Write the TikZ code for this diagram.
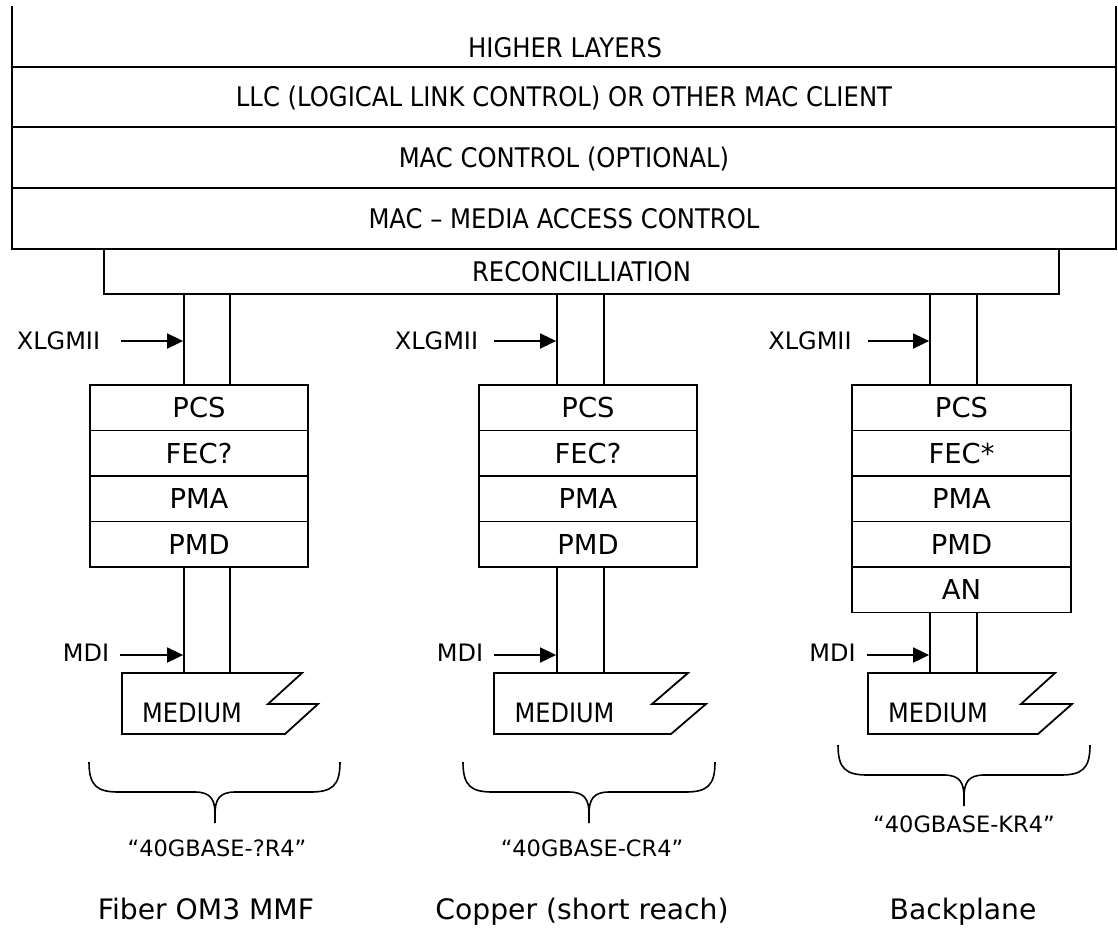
\documentclass[tikz,border=0pt]{standalone}
\usepackage{fontspec}
\setmainfont{DejaVu Sans}
\newfontfamily\narrowfont{DejaVu Sans}[FakeStretch=0.9]
\usetikzlibrary{arrows.meta}
\newcommand\mybrace[6]{% L R C top hy tip
  \draw[line width=1.6pt] (#1,#4) .. controls (#1,{#5-6}) and ({#1+8},#5) .. ({#1+30},#5) -- ({#3-20},#5)
    .. controls ({#3-4},#5) and (#3,{#5+8}) .. (#3,{#5+22}) -- (#3,#6);
  \draw[line width=1.6pt] (#3,{#5+22}) .. controls (#3,{#5+8}) and ({#3+4},#5) .. ({#3+20},#5)
    -- ({#2-30},#5) .. controls ({#2-8},#5) and (#2,{#5-6}) .. (#2,#4);}
\begin{document}
\begin{tikzpicture}[x=1pt,y=-1pt,line width=1.8pt,
  box/.style={draw, rectangle, inner sep=0pt, line width=1.8pt},
  top/.style={font=\narrowfont\fontsize{27}{32}\selectfont, text height=19.7pt, text depth=0pt, inner sep=0pt},
  big/.style={font=\fontsize{24}{28}\selectfont, text height=17.5pt, text depth=0pt, inner sep=0pt},
  med/.style={font=\narrowfont\fontsize{26.7}{30}\selectfont, text height=19.4pt, text depth=0pt, inner sep=0pt},
  lay/.style={font=\fontsize{27.4}{32}\selectfont, text height=20pt, text depth=0pt, inner sep=0pt},
  lbl/.style={font=\fontsize{22.5}{26}\selectfont, text height=16.4pt, text depth=0pt, inner sep=0pt},
  captwo/.style={font=\fontsize{28.2}{32}\selectfont, text height=20.5pt, text depth=0pt, inner sep=0pt},
  arr/.style={-{Triangle[length=16pt,width=15pt]}, line width=1.8pt},
  medium/.style={draw, line width=1.8pt, line join=miter}
]
\useasboundingbox (0,0) rectangle (1118,927);

% ---------- upper layers ----------
\node[top] (hl) at (565,48) {HIGHER LAYERS};
\draw (12,6) -- (12,67);
\draw (1116,6) -- (1116,67);
\node[box, top, minimum width=1104pt, minimum height=60pt] (llc) at (564,97) {LLC (LOGICAL LINK CONTROL) OR OTHER MAC CLIENT};
\node[box, top, minimum width=1104pt, minimum height=61pt] (macc) at (564,157.5) {MAC CONTROL (OPTIONAL)};
\node[box, top, minimum width=1104pt, minimum height=61pt] (mac) at (564,218.5) {MAC – MEDIA ACCESS CONTROL};
\node[box, top, minimum width=955pt, minimum height=45pt] (rec) at (581.5,271.5) {RECONCILLIATION};

% ---------- column 1 ----------
\node[box, minimum width=46pt, minimum height=91pt] (s1u) at (207,339.5) {};
\node[box, lay, minimum width=218pt, minimum height=45.5pt] (pcs1) at (199,407.75) {PCS};
\node[box, lay, minimum width=218pt, minimum height=45.5pt] (fec1) at (199,453.25) {FEC?};
\node[box, lay, minimum width=218pt, minimum height=45.5pt] (pma1) at (199,498.75) {PMA};
\node[box, lay, minimum width=218pt, minimum height=45.5pt] (pmd1) at (199,544.25) {PMD};
\node[box, minimum width=46pt, minimum height=106pt] (s1l) at (207,620) {};
\node[big] (xg1) at (58.5,341) {XLGMII};
\coordinate (xa1) at (121,341);
\draw[arr] (xa1) -- (xa1 -| s1u.west);
\node[big] (md1) at (86,653) {MDI};
\coordinate (ma1) at (120,655);
\draw[arr] (ma1) -- (ma1 -| s1l.west);
\draw[medium] (122,673) -- (302,673) -- (268,704) -- (318,704) -- (285,734) -- (122,734) -- cycle;
\node[med] (med1) at (192,713) {MEDIUM};

% ---------- column 2 ----------
\node[box, minimum width=47pt, minimum height=91pt] (s2u) at (580.5,339.5) {};
\node[box, lay, minimum width=218pt, minimum height=45.5pt] (pcs2) at (588,407.75) {PCS};
\node[box, lay, minimum width=218pt, minimum height=45.5pt] (fec2) at (588,453.25) {FEC?};
\node[box, lay, minimum width=218pt, minimum height=45.5pt] (pma2) at (588,498.75) {PMA};
\node[box, lay, minimum width=218pt, minimum height=45.5pt] (pmd2) at (588,544.25) {PMD};
\node[box, minimum width=47pt, minimum height=106pt] (s2l) at (580.5,620) {};
\node[big] (xg2) at (436.5,341) {XLGMII};
\coordinate (xa2) at (494,341);
\draw[arr] (xa2) -- (xa2 -| s2u.west);
\node[big] (md2) at (460,653) {MDI};
\coordinate (ma2) at (494,655);
\draw[arr] (ma2) -- (ma2 -| s2l.west);
\draw[medium] (494,673) -- (688,673) -- (652,704) -- (706,704) -- (671,734) -- (494,734) -- cycle;
\node[med] (med2) at (564.5,713) {MEDIUM};

% ---------- column 3 ----------
\node[box, minimum width=47pt, minimum height=91pt] (s3u) at (953.5,339.5) {};
\node[box, lay, minimum width=219pt, minimum height=45.5pt] (pcs3) at (961.5,407.75) {PCS};
\node[box, lay, minimum width=219pt, minimum height=45.5pt] (fec3) at (961.5,453.25) {FEC*};
\node[box, lay, minimum width=219pt, minimum height=45.5pt] (pma3) at (961.5,498.75) {PMA};
\node[box, lay, minimum width=219pt, minimum height=45.5pt] (pmd3) at (961.5,544.25) {PMD};
\node[box, lay, minimum width=219pt, minimum height=45.5pt] (an3) at (961.5,589.75) {AN};
\node[box, minimum width=47pt, minimum height=60.5pt] (s3l) at (953.5,642.75) {};
\node[big] (xg3) at (810,341) {XLGMII};
\coordinate (xa3) at (868,341);
\draw[arr] (xa3) -- (xa3 -| s3u.west);
\node[big] (md3) at (832.5,653) {MDI};
\coordinate (ma3) at (867,655);
\draw[arr] (ma3) -- (ma3 -| s3l.west);
\draw[medium] (868,673) -- (1055,673) -- (1021,704) -- (1072,704) -- (1038,734) -- (868,734) -- cycle;
\node[med] (med3) at (938,713) {MEDIUM};

% ---------- braces and captions ----------
\mybrace{89}{340}{215}{762}{792}{823}
\mybrace{463}{715}{589}{762}{792}{823}
\mybrace{838}{1090}{964}{745}{775}{806}
\node[lbl] (n1) at (217,848) {“40GBASE-?R4”};
\node[lbl] (n2) at (592,848) {“40GBASE-CR4”};
\node[lbl] (n3) at (964,824) {“40GBASE-KR4”};
\node[captwo] (c1) at (206,909) {Fiber OM3 MMF};
\node[captwo] (c2) at (582,909) {Copper (short reach)};
\node[captwo] (c3) at (963,909) {Backplane};
\end{tikzpicture}
\end{document}
